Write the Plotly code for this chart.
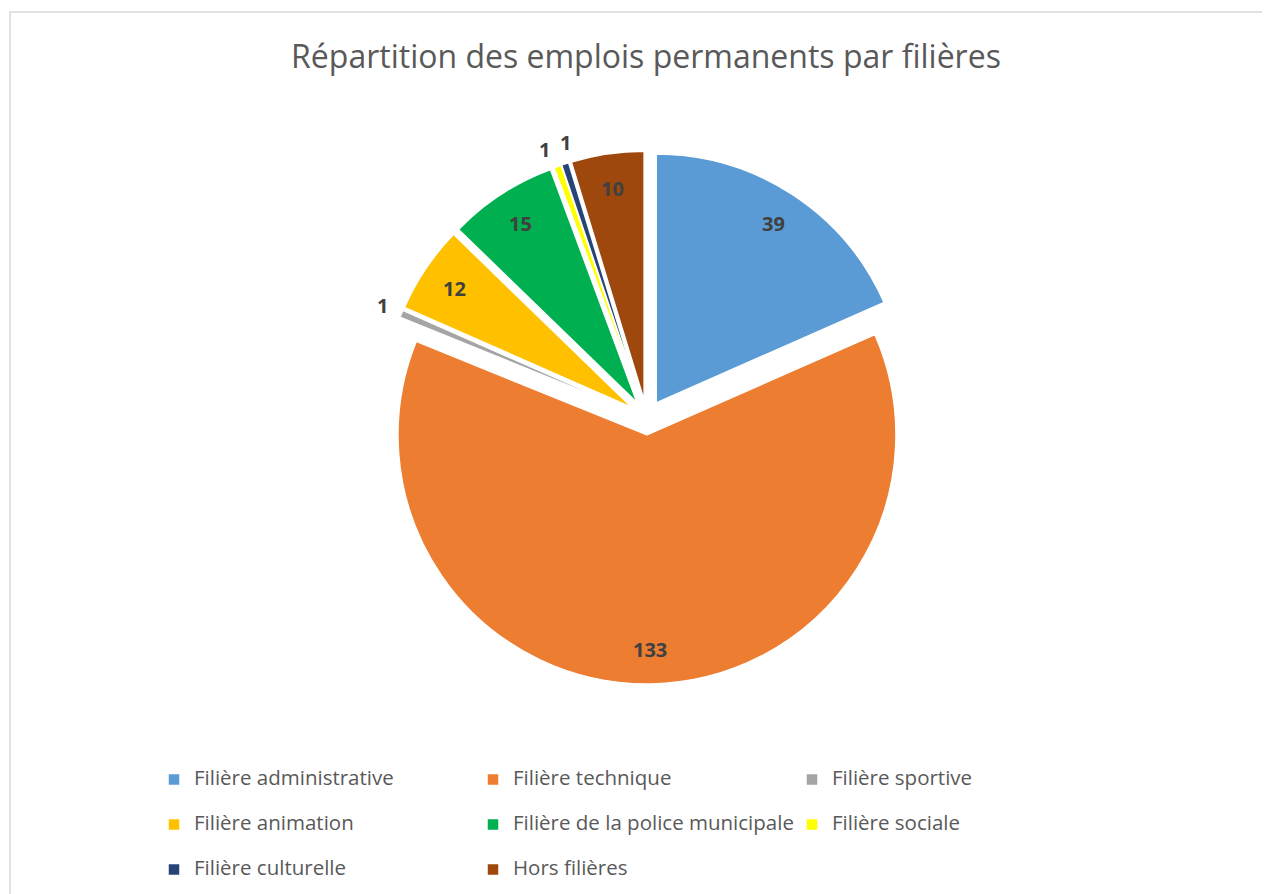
import math
import plotly.graph_objects as go

# ---- data ----
labels = ["Filière administrative", "Filière technique", "Filière sportive",
          "Filière animation", "Filière de la police municipale", "Filière sociale",
          "Filière culturelle", "Hors filières"]
values = [39, 133, 1, 12, 15, 1, 1, 10]
colors = ["#5B9BD5", "#ED7D31", "#A5A5A5", "#FFC000",
          "#00B050", "#FFFF00", "#264478", "#9E480E"]
title_text = "Répartition des emplois permanents par filières"

# ---- geometry / style ----
W, H = 1270, 894
OFF = 8  # page body margin


def xp(px):
    return (px - OFF) / W


def yp(py):
    return 1 - (py - OFF) / H


CX, CY, R = 646.7, 417.5, 249.0
PULL = 0.07
half = R * (1 + PULL)
domain_x = [xp(CX - half), xp(CX + half)]
domain_y = [yp(CY + half), yp(CY - half)]
FONT = "Open Sans"
LEG_F = 32.3      # legend line height driver (row spacing)
LEG_TXT = 20.5    # visible legend text size

legend_names = [
    f'<span style="font-size:{LEG_TXT}px;baseline-shift:7px">{l}</span>' for l in labels
]

fig = go.Figure(go.Pie(
    labels=legend_names,
    values=values,
    marker=dict(colors=colors, line=dict(color="white", width=1.5)),
    sort=False,
    direction="clockwise",
    rotation=0,
    pull=PULL,
    textinfo="none",
    hovertemplate="%{label}: %{value}<extra></extra>",
    domain=dict(x=domain_x, y=domain_y),
))

# data labels derived from the values
total = sum(values)
cum = 0
mids = []
for v in values:
    a0 = cum / total * 360
    cum += v
    a1 = cum / total * 360
    mids.append((a0 + a1) / 2)

small = [v / total < 0.02 for v in values]
# spread neighbouring outside labels apart
MIN_SEP = 4.3
ang = list(mids)
for i in range(1, len(values)):
    if small[i] and small[i - 1] and ang[i] - ang[i - 1] < MIN_SEP:
        m = (ang[i] + ang[i - 1]) / 2
        ang[i - 1] = m - MIN_SEP / 2
        ang[i] = m + MIN_SEP / 2

annotations = []
for v, a, s in zip(values, ang, small):
    t = math.radians(a)
    dx, dy = math.sin(t), -math.cos(t)
    f = 1.08 if s else 0.86
    px = CX + (PULL + f) * R * dx
    py = CY + (PULL + f) * R * dy
    annotations.append(dict(
        x=xp(px), y=yp(py), xref="paper", yref="paper",
        text=str(v), showarrow=False, xanchor="center", yanchor="middle",
        font=dict(family=FONT, size=20, color="#404040", weight="bold"),
    ))

fig.update_layout(
    width=W, height=H,
    margin=dict(l=0, r=0, t=0, b=0),
    paper_bgcolor="white",
    plot_bgcolor="white",
    title=dict(text=title_text, x=xp(646), xanchor="center",
               y=yp(57), yanchor="middle",
               font=dict(family=FONT, size=32, color="#595959")),
    showlegend=True,
    legend=dict(
        orientation="h",
        x=xp(194 - 40), xanchor="left",
        y=yp(752), yanchor="top",
        entrywidth=274, entrywidthmode="pixels",
        font=dict(family=FONT, size=LEG_F, color="#595959"),
        bgcolor="rgba(0,0,0,0)",
        traceorder="normal",
    ),
    annotations=annotations,
    shapes=[dict(type="rect", xref="paper", yref="paper",
                 x0=xp(10), x1=1.05, y0=-0.05, y1=yp(12),
                 line=dict(color="#D9D9D9", width=1.5), layer="below")],
)

fig.write_html("out.html")
